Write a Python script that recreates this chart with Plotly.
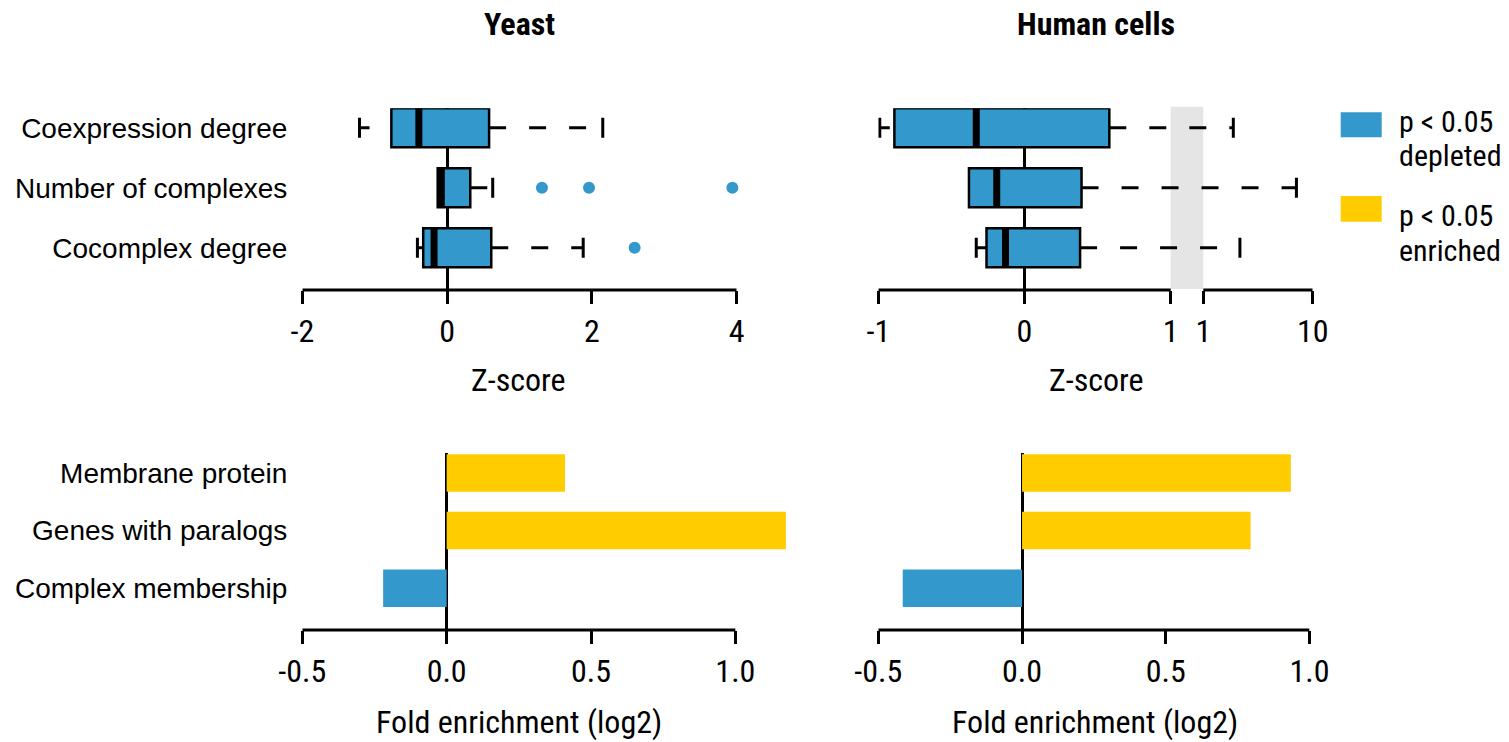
import math
import plotly.graph_objects as go

# ---------------- data ----------------
box_categories = ["Coexpression degree", "Number of complexes", "Cocomplex degree"]

yeast_low = [-1.21, -0.13, -0.41]
yeast_q1 = [-0.77, -0.13, -0.33]
yeast_median = [-0.39, -0.08, -0.18]
yeast_q3 = [0.58, 0.32, 0.61]
yeast_high = [2.15, 0.63, 1.88]
yeast_outliers = [[], [1.31, 1.96, 3.94], [2.59]]

human_low = [-0.99, -0.38, -0.33]
human_q1 = [-0.89, -0.38, -0.26]
human_median = [-0.33, -0.19, -0.13]
human_q3 = [0.58, 0.39, 0.38]
human_high = [1.88, 7.1, 2.16]
human_outliers = [[], [], []]

bar_categories = ["Membrane protein", "Genes with paralogs", "Complex membership"]
yeast_fold = [0.41, 1.175, -0.22]
human_fold = [0.935, 0.795, -0.415]

yeast_z_ticks = [-2, 0, 2, 4]
human_z_ticks_linear = [-1, 0, 1]
human_z_ticks_log = [1, 10]
fold_ticks = [-0.5, 0.0, 0.5, 1.0]

legend_labels = [("p < 0.05", "depleted"), ("p < 0.05", "enriched")]

# ---------------- style ----------------
W, H = 1509, 742
BLUE = "#3399cc"
YELLOW = "#ffcc00"
GRAY = "#e5e5e5"
NARROW = ("Liberation Sans Narrow, Arial Narrow, Roboto Condensed, Noto Sans Condensed, "
          "Open Sans Condensed, DejaVu Sans Condensed, Liberation Sans, sans-serif")
REG = "Liberation Sans, Arial, sans-serif"
BOXW = 0.65
CAP = 0.167

# broken human axis: linear -1..1, gap, log10 1..10
GAP = 0.223
DEC = 0.748


def f_h(v, upper=None):
    if upper is None:
        upper = v > 1
    if not upper:
        return v
    return 1 + GAP + math.log10(v) * DEC


def ident(v):
    return v


def pxx(x):
    return x / W


def pyy(y):
    return 1 - y / H


fig = go.Figure()


def add_boxplot(xa, ya, low, q1, med, q3, high, outl, tf):
    n = len(q1)
    pos = [n - 1 - i for i in range(n)]
    fig.add_trace(go.Bar(
        orientation="h", base=[tf(a) for a in q1],
        x=[tf(b) - tf(a) for a, b in zip(q1, q3)], y=pos, width=BOXW,
        marker=dict(color=BLUE, line=dict(color="black", width=2.5)),
        xaxis=xa, yaxis=ya, showlegend=False, hoverinfo="skip"))
    wx, wy = [], []
    for i in range(n):
        if high[i] > q3[i]:
            wx += [tf(q3[i]), tf(high[i]), None]
            wy += [pos[i], pos[i], None]
    fig.add_trace(go.Scatter(x=wx, y=wy, mode="lines",
                             line=dict(color="black", width=3, dash="17px,23px"),
                             xaxis=xa, yaxis=ya, showlegend=False, hoverinfo="skip"))
    wx, wy = [], []
    for i in range(n):
        if low[i] < q1[i]:
            wx += [tf(low[i]), tf(q1[i]), None]
            wy += [pos[i], pos[i], None]
    fig.add_trace(go.Scatter(x=wx, y=wy, mode="lines",
                             line=dict(color="black", width=3, dash="10px,23px"),
                             xaxis=xa, yaxis=ya, showlegend=False, hoverinfo="skip"))
    cx, cy = [], []
    for i in range(n):
        for v, ref in ((low[i], q1[i]), (high[i], q3[i])):
            if v != ref:
                cx += [tf(v), tf(v), None]
                cy += [pos[i] - CAP, pos[i] + CAP, None]
    fig.add_trace(go.Scatter(x=cx, y=cy, mode="lines",
                             line=dict(color="black", width=3),
                             xaxis=xa, yaxis=ya, showlegend=False, hoverinfo="skip"))
    mx, my = [], []
    for i in range(n):
        mx += [tf(med[i]), tf(med[i]), None]
        my += [pos[i] - BOXW / 2, pos[i] + BOXW / 2, None]
    fig.add_trace(go.Scatter(x=mx, y=my, mode="lines",
                             line=dict(color="black", width=7),
                             xaxis=xa, yaxis=ya, showlegend=False, hoverinfo="skip"))
    ox, oy = [], []
    for i in range(n):
        for v in outl[i]:
            ox.append(tf(v))
            oy.append(pos[i])
    if ox:
        fig.add_trace(go.Scatter(x=ox, y=oy, mode="markers", cliponaxis=False,
                                 marker=dict(color=BLUE, size=12, line=dict(width=0)),
                                 xaxis=xa, yaxis=ya, showlegend=False, hoverinfo="skip"))


add_boxplot("x", "y", yeast_low, yeast_q1, yeast_median, yeast_q3, yeast_high,
            yeast_outliers, ident)
add_boxplot("x2", "y2", human_low, human_q1, human_median, human_q3, human_high,
            human_outliers, f_h)


def add_bars(xa, ya, vals):
    n = len(vals)
    pos = [n - 1 - i for i in range(n)]
    fig.add_trace(go.Bar(orientation="h", x=vals, y=pos, width=BOXW,
                         marker=dict(color=[YELLOW if v > 0 else BLUE for v in vals],
                                     line=dict(width=0)),
                         xaxis=xa, yaxis=ya, showlegend=False, hoverinfo="skip"))


add_bars("x3", "y3", yeast_fold)
add_bars("x4", "y4", human_fold)

# ---------------- axes ----------------
tickfont = dict(family=NARROW, size=32, color="black")
xcommon = dict(showgrid=False, showline=False, ticks="outside", ticklen=13,
               tickwidth=3, tickcolor="black", tickfont=tickfont, automargin=False,
               zeroline=True, zerolinecolor="black", zerolinewidth=3, fixedrange=True)
ycommon = dict(showgrid=False, showline=False, zeroline=False, ticks="", automargin=False,
               tickfont=dict(family=REG, size=28, color="black"),
               ticklabelstandoff=14, fixedrange=True)

top_y0, top_y1 = pyy(290), pyy(290 - (2.325 + 0.705) * 60)
bot_y0, bot_y1 = pyy(630), pyy(630 - (2.34 + 0.723) * 57.7)

yeast_top_dom = [pxx(302.3), pxx(736.7)]
human_top_dom = [pxx(878.3), pxx(1312.7)]
yeast_bot_dom = [pxx(302.3), pxx(302.3 + 1.7 * 288.7)]
human_bot_dom = [pxx(878.3), pxx(878.3 + 1.5 * 287.5)]

h_tickvals = [f_h(v, False) for v in human_z_ticks_linear] + [f_h(v, True) for v in human_z_ticks_log]
h_ticktext = [str(v) for v in human_z_ticks_linear] + [str(v) for v in human_z_ticks_log]

fig.update_layout(
    xaxis=dict(xcommon, domain=yeast_top_dom, range=[-2, 4], anchor="y",
               tickvals=yeast_z_ticks, ticktext=[str(v) for v in yeast_z_ticks]),
    yaxis=dict(ycommon, domain=[top_y0, top_y1], range=[-0.705, 2.325], anchor="x",
               tickvals=[2, 1, 0], ticktext=box_categories),
    xaxis2=dict(xcommon, domain=human_top_dom, range=[-1, f_h(10)], anchor="y2",
                tickvals=h_tickvals, ticktext=h_ticktext),
    yaxis2=dict(ycommon, domain=[top_y0, top_y1], range=[-0.705, 2.325], anchor="x2",
                showticklabels=False),
    xaxis3=dict(xcommon, domain=yeast_bot_dom, range=[-0.5, 1.2], anchor="y3",
                tickvals=fold_ticks, ticktext=["%.1f" % v for v in fold_ticks]),
    yaxis3=dict(ycommon, domain=[bot_y0, bot_y1], range=[-0.723, 2.34], anchor="x3",
                tickvals=[2, 1, 0], ticktext=bar_categories),
    xaxis4=dict(xcommon, domain=human_bot_dom, range=[-0.5, 1.0], anchor="y4",
                tickvals=fold_ticks, ticktext=["%.1f" % v for v in fold_ticks]),
    yaxis4=dict(ycommon, domain=[bot_y0, bot_y1], range=[-0.723, 2.34], anchor="x4",
                showticklabels=False),
    width=W, height=H, margin=dict(l=0, r=0, t=0, b=0, autoexpand=False),
    paper_bgcolor="white", plot_bgcolor="white", barmode="overlay",
    showlegend=False,
)

shapes = []
line = dict(color="black", width=3)
shapes.append(dict(type="line", xref="x", yref="y domain", x0=-2, x1=4, y0=0, y1=0, line=line, layer="above"))
shapes.append(dict(type="line", xref="x2", yref="y2 domain", x0=f_h(-1), x1=f_h(1, False), y0=0, y1=0, line=line, layer="above"))
shapes.append(dict(type="line", xref="x2", yref="y2 domain", x0=f_h(1, True), x1=f_h(10), y0=0, y1=0, line=line, layer="above"))
shapes.append(dict(type="line", xref="x3", yref="y3 domain", x0=-0.5, x1=1.0, y0=0, y1=0, line=line, layer="above"))
shapes.append(dict(type="line", xref="x4", yref="y4 domain", x0=-0.5, x1=1.0, y0=0, y1=0, line=line, layer="above"))
shapes.append(dict(type="rect", xref="x2", yref="paper", x0=f_h(1, False), x1=f_h(1, True),
                   y0=pyy(289), y1=pyy(106.7), fillcolor=GRAY, line=dict(width=0), layer="below"))
for (y0, y1), col in zip([(112.3, 137.3), (196, 221.7)], [BLUE, YELLOW]):
    shapes.append(dict(type="rect", xref="paper", yref="paper", x0=pxx(1340.7), x1=pxx(1381.7),
                       y0=pyy(y1), y1=pyy(y0), fillcolor=col, line=dict(width=0)))
fig.update_layout(shapes=shapes)

ann = []


def text(x, y, s, font, xanchor="center"):
    ann.append(dict(x=pxx(x), y=pyy(y), xref="paper", yref="paper", text=s, showarrow=False,
                    xanchor=xanchor, yanchor="middle", font=font))


tfont = dict(family=NARROW, size=32, color="black")
lfont = dict(family=NARROW, size=30, color="black")
text(519.5, 24, "<b>Yeast</b>", tfont)
text(1095.5, 24, "<b>Human cells</b>", tfont)
text(518, 380, "Z-score", tfont)
text(1096, 380, "Z-score", tfont)
text(519, 722, "Fold enrichment (log2)", tfont)
text(1095, 722, "Fold enrichment (log2)", tfont)
for (l1, l2), (ya, yb) in zip(legend_labels, [(121, 155), (216, 250)]):
    text(1397, ya, l1, lfont, "left")
    text(1397, yb, l2, lfont, "left")
fig.update_layout(annotations=ann)

fig.write_html("out.html")
